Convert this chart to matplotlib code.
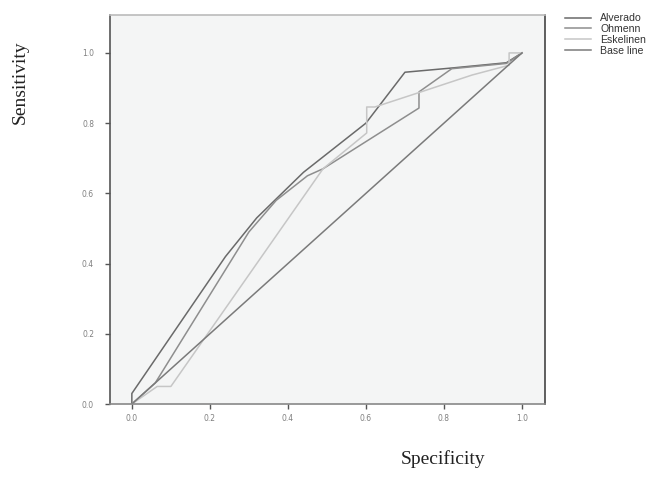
import matplotlib
matplotlib.use("Agg")
import matplotlib.pyplot as plt

# ROC curve data (Specificity on x, Sensitivity on y as labelled in the figure)
alverado_x = [0, 0, 0.24, 0.32, 0.44, 0.60, 0.70, 0.82, 0.96, 1.0]
alverado_y = [0, 0.03, 0.42, 0.53, 0.66, 0.80, 0.945, 0.957, 0.972, 1.0]

ohmenn_x = [0, 0.06, 0.30, 0.37, 0.45, 0.49, 0.736, 0.736, 0.82, 0.96, 1.0]
ohmenn_y = [0, 0.06, 0.49, 0.58, 0.65, 0.67, 0.843, 0.889, 0.955, 0.97, 1.0]

eskelinen_x = [0, 0.065, 0.10, 0.49, 0.602, 0.602, 0.623, 0.733, 0.872, 0.967, 0.967, 1.0]
eskelinen_y = [0, 0.05, 0.05, 0.67, 0.772, 0.846, 0.846, 0.886, 0.937, 0.965, 1.0, 1.0]

base_x = [0, 1.0]
base_y = [0, 1.0]

labels = ["Alverado", "Ohmenn", "Eskelinen", "Base line"]
colors = ["#6a6a6a", "#8e8e8e", "#c6c6c6", "#7a7a7a"]
ticks = [0.0, 0.2, 0.4, 0.6, 0.8, 1.0]
tick_labels = ["0.0", "0.2", "0.4", "0.6", "0.8", "1.0"]

fig = plt.figure(figsize=(6.68, 4.91), dpi=100)
ax = fig.add_axes([110/668, 1-404/491, 435/668, 389/491])
ax.set_facecolor("#f4f5f5")

series = [(alverado_x, alverado_y), (ohmenn_x, ohmenn_y),
          (eskelinen_x, eskelinen_y), (base_x, base_y)]
for (xs, ys), lab, c in zip(series, labels, colors):
    ax.plot(xs, ys, color=c, lw=1.1, label=lab)

ax.set_xlim(-0.056, 1.059)
ax.set_ylim(0, 1.108)
ax.set_xticks(ticks)
ax.set_xticklabels(tick_labels)
ax.set_yticks(ticks)
ax.set_yticklabels(tick_labels)
ax.tick_params(axis="both", labelsize=5.5, labelcolor="#808080", color="#555555",
               length=3.5, width=1, direction="out")
ax.tick_params(axis="x", pad=4)
ax.tick_params(axis="y", pad=8)

ax.spines["left"].set_color("#555555")
ax.spines["right"].set_color("#444444")
ax.spines["top"].set_color("#bbbbbb")
ax.spines["bottom"].set_color("#888888")
for s in ax.spines.values():
    s.set_linewidth(1.2)

fig.text(20/668, 1-82/491, "Sensitivity", rotation=90, ha="center", va="center",
         family="Liberation Serif", fontsize=14, color="#222222")
fig.text(443/668, 1-459/491, "Specificity", ha="center", va="center",
         family="Liberation Serif", fontsize=14, color="#222222")

leg = ax.legend(loc="upper left", bbox_to_anchor=(561/668, 1-9/491),
                bbox_transform=fig.transFigure, frameon=False,
                fontsize=7.6, handlelength=2.4, handletextpad=0.9,
                labelspacing=0.08, borderaxespad=0)
for t in leg.get_texts():
    t.set_color("#333333")
    t.set_family("Liberation Sans")

fig.savefig("out.png", dpi=100)
